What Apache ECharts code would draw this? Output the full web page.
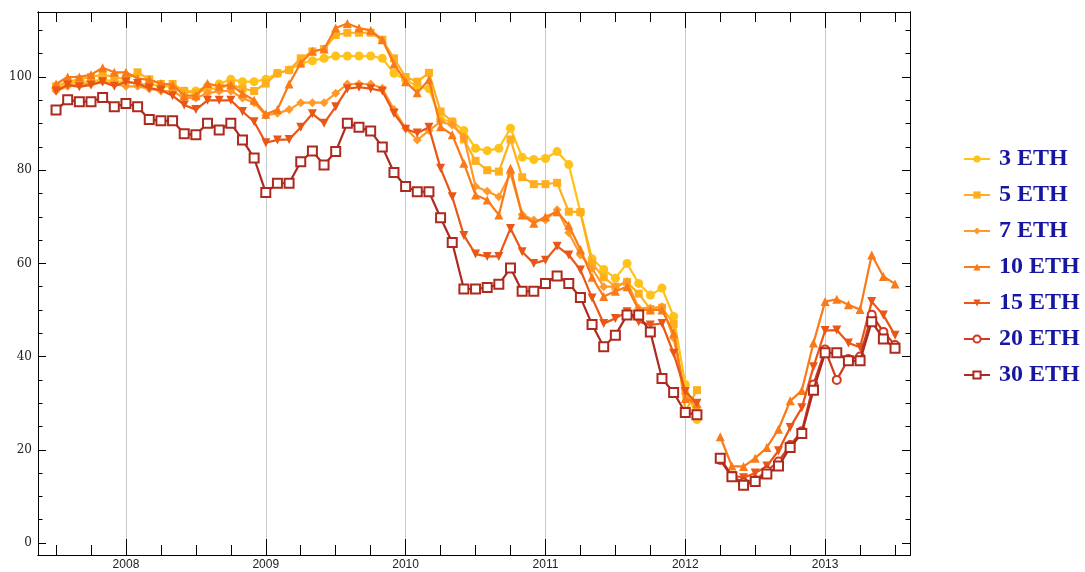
<!DOCTYPE html>
<html>
<head>
<meta charset="utf-8">
<script src="https://cdn.jsdelivr.net/npm/echarts@6/dist/echarts.min.js"></script>
<style>html,body{margin:0;padding:0;background:#fff}#c{width:1085px;height:572px}</style>
</head>
<body>
<div id="c"></div>
<script>
// Monthly categories 2007-07 .. 2013-07 (2012-03 missing in all series)
const startYear = 2007, startMonth = 7, monthCount = 73;
const months = [];
for (let i = 0; i < monthCount; i++) {
  const k = startMonth - 1 + i;
  months.push((startYear + Math.floor(k / 12)) + '-' + String(k % 12 + 1).padStart(2, '0'));
}
const seriesNames = ['3 ETH', '5 ETH', '7 ETH', '10 ETH', '15 ETH', '20 ETH', '30 ETH'];
const yearTicks = [2008, 2009, 2010, 2011, 2012, 2013];
const yLabels = [0, 20, 40, 60, 80, 100];

const eth3 = [97.5,98.5,99,99,99.5,99,99,98.5,98.5,98,98,97,97,98,98.5,99.5,99,99,
  99.5,100.8,101.5,102.9,103.5,104,104.5,104.5,104.5,104.5,104,100.8,99.4,98,97.5,90.9,90.4,88.5,
  84.7,84.2,84.7,89,82.8,82.3,82.5,84,81.2,71,61,58.7,56.8,60,55.7,53.2,54.7,48.6,34,26.5]
  .concat(Array(17).fill(null));
const eth5 = [98,99,99.5,100,100.5,100,99.5,101,99.5,98.5,98.5,97,96.5,97.5,97.5,98.5,97.5,97,
  98.6,100.8,101.5,104,105.5,106,109,109.5,109.5,109.5,108,104,100,99,100.9,92.6,90.4,86.6,
  82,80,79.7,86.6,78.5,77,77,77.3,71.1,71,60,57,55,56,53.5,50.2,50.5,47,28.2,32.8]
  .concat(Array(17).fill(null));
const eth7 = [97,98,98.5,98.5,99,98.5,98,98,97.5,97,97,95.5,95.5,96.5,97,97,95.5,94.5,
  91.8,92.2,93,94.5,94.5,94.5,96.5,98.5,98.5,98.5,97.6,93,89,86.5,88.5,90.4,89.7,87.1,
  76.5,75.5,74.3,79.3,70.5,69.3,69.3,71.5,66.6,61.8,58.9,55,55,56.1,50.4,50.4,50.7,44,32,29]
  .concat(Array(17).fill(null));
const eth10 = [98.5,100,100,100.5,102,101,101,99.7,99.4,98.6,98.3,96,96,98.6,98,98.3,96.5,95,
  92,93,98.5,103,105.5,106,110.5,111.5,110.5,110,108,102.8,99,96.6,99.4,89.3,87.6,81.5,
  74.7,73.6,70.4,80.4,70.4,68.6,70,71.1,68.2,63,57,52.9,54,55,50,50,50,45,31,30,
  null,
  22.8,16.5,16.4,18.2,20.5,24.4,30.5,32.7,42.9,51.8,52.3,51.1,50.1,61.8,57.2,55.6];
const eth15 = [97,98.3,97.9,98.3,99,98,99,98.6,97.6,97.2,96,94,93,95,95,95,92.6,90.4,
  85.9,86.5,86.6,89.2,92.1,90.1,93.6,97.5,97.8,97.5,97,92.2,88.8,88,89.2,80.4,74.3,66,
  62,61.5,61.5,67.5,62.5,60,60.7,63.7,61.8,58.6,52.6,47.1,48.2,49.6,47.5,46.8,47.1,40.7,32.5,30,
  null,
  18,14.5,14,15,16.5,19.8,24.8,29,37.8,45.6,45.7,42.9,42,51.8,48.9,44.6];
const eth20 = Array(57).fill(null).concat(
  [17.8,14.2,13,13.5,15.5,17.5,21,24,34,41.5,35,39.5,40,49,45.3,42.5]);
const eth30 = [92.9,95.1,94.7,94.7,95.6,93.6,94.3,93.6,90.9,90.6,90.6,87.8,87.6,90.1,88.6,90.1,86.5,82.6,
  75.2,77.2,77.2,81.8,84.1,81.1,84,90.1,89.2,88.4,85,79.5,76.5,75.4,75.4,69.8,64.5,54.5,
  54.5,54.8,55.5,59,54,54,55.7,57.3,55.7,52.7,46.9,42.1,44.6,48.9,48.9,45.3,35.3,32.3,28,27.5,
  null,
  18.2,14.2,12.4,13.2,14.8,16.5,20.5,23.5,32.8,40.8,40.8,39.1,39.1,47.5,43.8,41.8];

const allValues = [eth3, eth5, eth7, eth10, eth15, eth20, eth30];
const colors = ['#FFC21A', '#FFAE1E', '#FF9A2A', '#F97A17', '#EA5616', '#D03A1F', '#AC2A1E'];
const symbols = ['circle', 'rect', 'diamond', 'triangle', 'triangle', 'emptyCircle', 'emptyRect'];
const rotates = [0, 0, 0, 0, 180, 0, 0];
const sizes = [9, 8, 9, 9, 9, 8, 9];

function monthToYear(s) {
  const p = s.split('-');
  return +p[0] + (+p[1] - 1) / 12;
}

const XMIN = 2007.371, XMAX = 2013.607, YMIN = -2.58, YMAX = 113.95;
const quarterTicks = [];
for (let y = 2007; y <= 2013; y++) for (let q = 0; q < 4; q++) {
  const v = y + q / 4; if (v > XMIN && v < XMAX) quarterTicks.push(v);
}
const yMinor = [];
for (let v = 0; v <= 110; v += 5) yMinor.push(v);

const axLine = { show: true, onZero: false, lineStyle: { color: '#000', width: 1 } };
function xAx(pos, major) {
  return {
    type: 'value', min: XMIN, max: XMAX, position: pos,
    axisLine: axLine,
    axisTick: { show: true, inside: true, length: major ? 16 : 10,
      customValues: major ? yearTicks : quarterTicks, lineStyle: { color: '#000', width: 1 } },
    axisLabel: (major && pos === 'bottom') ? { show: true, customValues: yearTicks,
      formatter: v => String(Math.round(v)), fontFamily: 'Liberation Sans', fontSize: 12,
      color: '#222', margin: 4 } : { show: false },
    splitLine: (major && pos === 'bottom') ? { show: true, lineStyle: { color: '#c8c8c8', width: 1 } } : { show: false }
  };
}
function yAx(pos, major) {
  return {
    type: 'value', min: YMIN, max: YMAX, position: pos,
    axisLine: axLine,
    axisTick: { show: true, inside: true, length: major ? 8 : 4.5,
      customValues: major ? yLabels : yMinor, lineStyle: { color: '#000', width: 1 } },
    axisLabel: (major && pos === 'left') ? { show: true, customValues: yLabels,
      fontFamily: 'DejaVu Serif', fontSize: 12, color: '#222', margin: 6 } : { show: false },
    splitLine: { show: false }
  };
}

const series = seriesNames.map((name, k) => ({
  name: name, type: 'line', xAxisIndex: 1, yAxisIndex: 1,
  data: months.map((m, i) => [monthToYear(m), allValues[k][i]]),
  connectNulls: false,
  symbol: symbols[k], symbolRotate: rotates[k], symbolSize: sizes[k],
  showAllSymbol: true,
  lineStyle: { color: colors[k], width: 2.2 },
  itemStyle: { color: colors[k], borderColor: colors[k], borderWidth: k >= 5 ? 1.5 : 0 },
  z: 2 + k
}));

const chart = echarts.init(document.getElementById('c'), null, { renderer: 'canvas' });
chart.setOption({
  animation: false,
  backgroundColor: '#fff',
  grid: { left: 38, right: 175, top: 12, bottom: 17, containLabel: false },
  legend: {
    orient: 'vertical', left: 958, top: 142,
    data: seriesNames, itemWidth: 26, itemHeight: 9, itemGap: 12,
    textStyle: { fontFamily: 'Liberation Serif', fontWeight: 'bold', fontSize: 24,
      color: '#1616a0', lineHeight: 24, padding: [0, 0, 0, 4] }
  },
  xAxis: [xAx('bottom', false), xAx('bottom', true), xAx('top', false), xAx('top', true)],
  yAxis: [yAx('left', false), yAx('left', true), yAx('right', false), yAx('right', true)],
  series: series
});
</script>
</body>
</html>
